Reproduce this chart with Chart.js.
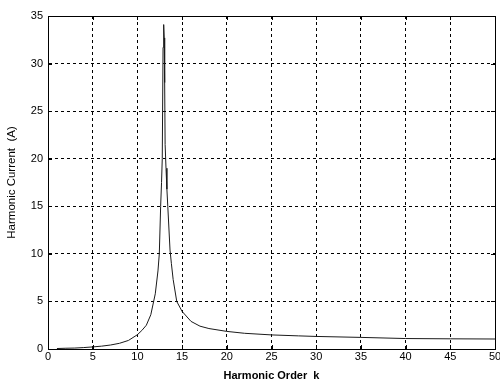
<!DOCTYPE html>
<html>
<head>
<meta charset="utf-8">
<script src="https://cdn.jsdelivr.net/npm/chart.js@4/dist/chart.umd.min.js"></script>
<style>
	html, body { margin: 0; padding: 0; background: #fff; }
	#wrap { width: 500px; height: 383px; }
</style>
</head>
<body>
<div id="wrap"><canvas id="myChart" width="500" height="383"></canvas></div>
<script>
// harmonic order k and harmonic current (A)
const harmonicOrder = [1, 2, 3, 4, 5, 6, 7, 8, 9, 10, 10.5, 11, 11.5, 12, 12.3, 12.45, 12.6, 12.7, 12.78, 12.87, 12.94,
	13.0, 13.05, 13.1, 13.2, 13.3, 13.4, 13.65, 13.8, 14.0, 14.4, 15, 16, 17, 18, 20, 22, 25, 28, 30, 35, 40, 45, 50];
const harmonicCurrent = [0.05, 0.08, 0.1, 0.15, 0.22, 0.3, 0.42, 0.6, 0.9, 1.5, 1.95, 2.5, 3.6, 5.8, 8.2, 10, 15, 17.5, 20, 31.7, 34.1,
	32.7, 28, 21.5, 19, 16.8, 15, 10.4, 9, 7.3, 5, 3.95, 2.9, 2.4, 2.15, 1.85, 1.65, 1.48, 1.38, 1.32, 1.22, 1.1, 1.07, 1.05];
const xTicks = [0, 5, 10, 15, 20, 25, 30, 35, 40, 45, 50];
const yTicks = [0, 5, 10, 15, 20, 25, 30, 35];

const font = "'Liberation Sans', Arial, sans-serif";

// matlab style box + inward ticks
const boxPlugin = {
	id: 'box',
	afterDraw(chart) {
		const { ctx, chartArea: a, scales } = chart;
		ctx.save();
		ctx.strokeStyle = '#000';
		ctx.lineWidth = 1;
		ctx.beginPath();
		xTicks.forEach(v => {
			const px = Math.round(scales.x.getPixelForValue(v)) + 0.5;
			ctx.moveTo(px, a.bottom); ctx.lineTo(px, a.bottom - 4);
			ctx.moveTo(px, a.top); ctx.lineTo(px, a.top + 4);
		});
		yTicks.forEach(v => {
			const py = Math.round(scales.y.getPixelForValue(v)) + 0.5;
			ctx.moveTo(a.left, py); ctx.lineTo(a.left + 4, py);
			ctx.moveTo(a.right, py); ctx.lineTo(a.right - 4, py);
		});
		ctx.stroke();
		ctx.strokeRect(Math.round(a.left) + 0.5, Math.round(a.top) + 0.5,
			Math.round(a.right - a.left), Math.round(a.bottom - a.top));
		ctx.restore();
	}
};

const ctx = document.getElementById('myChart');
new Chart(ctx, {
	type: 'line',
	data: {
		labels: harmonicOrder,
		datasets: [{
			data: harmonicOrder.map((k, i) => ({ x: k, y: harmonicCurrent[i] })),
			borderColor: '#1a1a1a',
			borderWidth: 1,
			pointRadius: 0,
			tension: 0,
			fill: false
		}]
	},
	options: {
		responsive: false,
		animation: false,
		layout: { padding: { left: 0, right: 5, top: 16, bottom: 0 } },
		plugins: { legend: { display: false }, tooltip: { enabled: false } },
		scales: {
			x: {
				type: 'linear',
				min: 0,
				max: 50,
				afterFit(s) { s.height = 34; s.paddingRight = 0; s.paddingLeft = 0; },
				afterBuildTicks(s) { s.ticks = xTicks.map(v => ({ value: v })); },
				ticks: { autoSkip: false, maxRotation: 0, color: '#000', font: { family: font, size: 11 }, padding: 1 },
				grid: { color: '#000', lineWidth: 1, drawTicks: false },
				border: { color: '#000', dash: [3, 3] },
				title: {
					display: true,
					text: 'Harmonic Order  k',
					color: '#000',
					font: { family: font, size: 11, weight: 'bold' },
					padding: { top: 1, bottom: 0 }
				}
			},
			y: {
				min: 0,
				max: 35,
				afterFit(s) { s.width = 48; },
				afterBuildTicks(s) { s.ticks = yTicks.map(v => ({ value: v })); },
				ticks: { autoSkip: false, color: '#000', font: { family: font, size: 11 }, padding: 5 },
				grid: { color: '#000', lineWidth: 1, drawTicks: false },
				border: { color: '#000', dash: [3, 3] },
				title: {
					display: true,
					text: 'Harmonic Current  (A)',
					color: '#000',
					font: { family: font, size: 11.5 },
					padding: { top: 5, bottom: 4 }
				}
			}
		}
	},
	plugins: [boxPlugin]
});
</script>
</body>
</html>
